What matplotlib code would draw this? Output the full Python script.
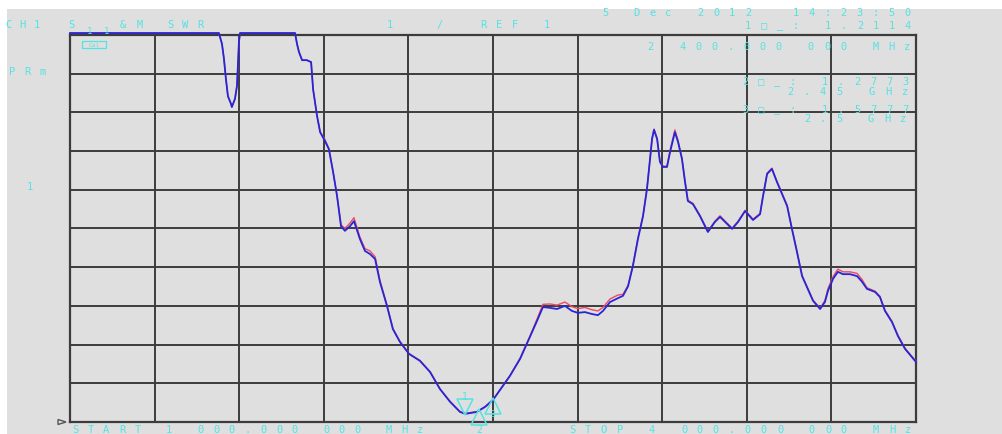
import matplotlib
matplotlib.use("Agg")
import matplotlib.pyplot as plt
from matplotlib.patches import Rectangle, Polygon
import matplotlib.transforms as mtransforms

# ---------------- data ----------------
freq_mhz = [1000, 1528, 1539, 1546, 1553, 1560, 1571, 1574, 1585, 1592, 1596, 1599, 1603,
            1798, 1805, 1812, 1823, 1840, 1855, 1862, 1876, 1887, 1904, 1918, 1933, 1947,
            1961, 1975, 1993, 2007, 2028, 2046, 2064, 2082, 2099, 2124, 2145, 2170, 2202,
            2241, 2277, 2312, 2348, 2383, 2401, 2443, 2472, 2500, 2560, 2596, 2631, 2656,
            2677, 2702, 2727, 2755, 2780, 2801, 2826, 2851, 2872, 2890, 2915, 2943, 2961,
            2979, 2996, 3014, 3032, 3046, 3057, 3064, 3071, 3082, 3092, 3103, 3117, 3128,
            3145, 3156, 3170, 3181, 3191, 3209, 3234, 3262, 3287, 3305, 3323, 3348, 3369,
            3394, 3422, 3447, 3457, 3472, 3489, 3507, 3525, 3543, 3560, 3578, 3596, 3613,
            3635, 3660, 3677, 3688, 3706, 3723, 3741, 3766, 3791, 3809, 3826, 3855, 3872,
            3890, 3915, 3936, 3961, 4000]

swr_blue = [11.05, 11.05, 10.77, 10.38, 9.86, 9.42, 9.22, 9.14, 9.35, 9.68, 10.30, 10.82, 11.05,
            11.05, 10.77, 10.56, 10.35, 10.35, 10.30, 9.60, 8.91, 8.49, 8.26, 8.05, 7.46, 6.84,
            6.06, 5.94, 6.06, 6.19, 5.73, 5.42, 5.34, 5.21, 4.62, 4.00, 3.40, 3.07, 2.76,
            2.58, 2.29, 1.85, 1.52, 1.26, 1.21, 1.26, 1.39, 1.57, 2.19, 2.63, 3.20, 3.61,
            3.97, 3.95, 3.92, 4.00, 3.87, 3.82, 3.84, 3.79, 3.76, 3.87, 4.10, 4.20, 4.26,
            4.51, 5.03, 5.73, 6.32, 7.02, 7.80, 8.31, 8.55, 8.31, 7.72, 7.59, 7.59, 7.98,
            8.49, 8.24, 7.80, 7.20, 6.71, 6.63, 6.32, 5.91, 6.17, 6.30, 6.17, 5.99, 6.17,
            6.45, 6.22, 6.37, 6.81, 7.41, 7.54, 7.20, 6.89, 6.58, 5.99, 5.39, 4.77, 4.49,
            4.13, 3.92, 4.10, 4.39, 4.70, 4.88, 4.82, 4.82, 4.77, 4.62, 4.44, 4.36, 4.23,
            3.87, 3.58, 3.22, 2.89, 2.55]

swr_red = [11.05, 11.05, 10.77, 10.38, 9.86, 9.42, 9.22, 9.14, 9.35, 9.68, 10.30, 10.82, 11.05,
           11.05, 10.77, 10.56, 10.35, 10.35, 10.30, 9.60, 8.91, 8.49, 8.30, 8.07, 7.46, 6.84,
           6.10, 6.00, 6.14, 6.28, 5.78, 5.48, 5.42, 5.27, 4.66, 4.02, 3.42, 3.08, 2.77,
           2.59, 2.30, 1.86, 1.53, 1.27, 1.22, 1.27, 1.40, 1.58, 2.20, 2.65, 3.22, 3.66,
           4.04, 4.05, 4.02, 4.10, 3.98, 3.93, 3.96, 3.90, 3.87, 3.96, 4.18, 4.28, 4.30,
           4.53, 5.05, 5.75, 6.34, 7.04, 7.82, 8.33, 8.57, 8.33, 7.74, 7.61, 7.61, 8.02,
           8.55, 8.28, 7.82, 7.22, 6.73, 6.65, 6.34, 5.93, 6.19, 6.33, 6.19, 6.01, 6.19,
           6.47, 6.24, 6.39, 6.83, 7.43, 7.56, 7.22, 6.91, 6.60, 6.01, 5.41, 4.79, 4.51,
           4.15, 3.94, 4.14, 4.45, 4.76, 4.95, 4.88, 4.88, 4.84, 4.68, 4.47, 4.38, 4.25,
           3.89, 3.60, 3.24, 2.91, 2.57]

marker_freq = [2400, 2450, 2500]
marker_swr = [1.2114, 1.2773, 1.5777]

# ---------------- layout ----------------
W, H = 1003, 435
CYAN = "#55e2e2"
GRIDC = "#3c3c3c"
BG = "#dfdfdf"

fig = plt.figure(figsize=(W / 100, H / 100), dpi=100)
fig.patch.set_facecolor("white")
fig.patches.append(Rectangle((7 / W, 0), 1 - 7 / W, 1 - 10 / H, transform=fig.transFigure,
                             facecolor=BG, edgecolor="none", zorder=-5))

L, R, T, B = 70, 916, 36, 423
ax = fig.add_axes([L / W, 1 - B / H, (R - L) / W, (B - T) / H])
ax.set_zorder(1)
ax.set_facecolor(BG)
ax.set_xlim(1000, 4000)
ax.set_ylim(1, 11)
ax.set_xticks([1000 + 300 * i for i in range(11)])
ax.set_yticks([1 + i for i in range(11)])
ax.tick_params(length=0, labelbottom=False, labelleft=False)
ax.grid(True, color=GRIDC, linewidth=1.4)
for s in ax.spines.values():
    s.set_color(GRIDC)
    s.set_linewidth(1.6)
ax.set_axisbelow(True)

ax.plot(freq_mhz, swr_red, color="#f04a60", linewidth=1.0, clip_on=False, zorder=3)
ax.plot(freq_mhz, swr_blue, color="#2626d8", linewidth=1.3, clip_on=False, zorder=4)

# markers
def off(dy):
    return mtransforms.offset_copy(ax.transData, fig=fig, x=0, y=dy, units="dots")

ax.plot(marker_freq[0], marker_swr[0], marker="v", markersize=11, mfc="none", mec=CYAN,
        mew=1.1, transform=off(7), clip_on=False, zorder=5)
ax.text(marker_freq[0], marker_swr[0], "1", color=CYAN, fontsize=7, ha="center", va="center",
        family="DejaVu Sans Mono", transform=off(18), clip_on=False)
ax.plot(marker_freq[1], marker_swr[1], marker="^", markersize=11, mfc="none", mec=CYAN,
        mew=1.1, transform=off(-6), clip_on=False, zorder=5)
ax.text(marker_freq[1], marker_swr[1], "2", color=CYAN, fontsize=7, ha="center", va="center",
        family="DejaVu Sans Mono", transform=off(-18), clip_on=False)
ax.plot(marker_freq[2], marker_swr[2], marker="^", markersize=11, mfc="none", mec=CYAN,
        mew=1.1, transform=off(-6), clip_on=False, zorder=5)
ax.text(marker_freq[2], marker_swr[2], "3", color=CYAN, fontsize=5.5, ha="center", va="center",
        family="DejaVu Sans Mono", transform=off(-14), clip_on=False)

# reference-level pointer at left
fig.patches.append(Polygon([(58 / W, 1 - 420.5 / H), (58 / W, 1 - 425.5 / H), (66 / W, 1 - 423 / H)],
                           closed=True, transform=fig.transFigure, facecolor="none",
                           edgecolor="#555555", linewidth=1.0, zorder=5))


def spaced(x0, y, s, pitch=16.0, size=7.5, color=CYAN):
    for i, ch in enumerate(s):
        if ch == " ":
            continue
        fig.text((x0 + i * pitch) / W, 1 - y / H, ch, ha="center", va="center",
                 fontsize=size, color=color, family=["DejaVu Sans Mono", "DejaVu Sans"],
                 zorder=6)


# header texts
spaced(8, 25, "CH1", pitch=14.5)
spaced(71, 25, "S")
spaced(90, 31, "11", pitch=17, size=6.5)
spaced(123, 25, "&M", pitch=17)
spaced(170, 25, "SWR", pitch=15)
spaced(390, 25, "1")
spaced(440, 25, "/")
spaced(483, 25, "REF 1", pitch=16)
spaced(605, 13, "5 Dec 2012  14:23:50", pitch=15.9)
spaced(748, 26, "1\u25a1_: 1.2114", pitch=16)
spaced(650, 47, "2 400.000 000 MHz", pitch=16.1)
spaced(745, 82, "2\u25a1_: 1.2773", pitch=16)
spaced(790, 92, "2.45 GHz", pitch=16.4)
spaced(745, 110, "3\u25a1_: 1.5777", pitch=16)
spaced(807, 119, "2.5 GHz", pitch=16)
spaced(12, 72, "PRm", pitch=15.5)
spaced(30, 187, "1")
spaced(75, 430, "START 1 000.000 000 MHz", pitch=15.7)
spaced(572, 430, "STOP 4 000.000 000 MHz", pitch=16)

# small status icon
fig.patches.append(Rectangle((82 / W, 1 - 49 / H), 24 / W, 7 / H, transform=fig.transFigure,
                             facecolor="none", edgecolor=CYAN, linewidth=0.9, zorder=6))
fig.text(94 / W, 1 - 45.5 / H, "Cal", ha="center", va="center", fontsize=4.5, color=CYAN,
         family="DejaVu Sans Mono", zorder=6)

fig.savefig("out.png", dpi=100, facecolor=fig.get_facecolor())
